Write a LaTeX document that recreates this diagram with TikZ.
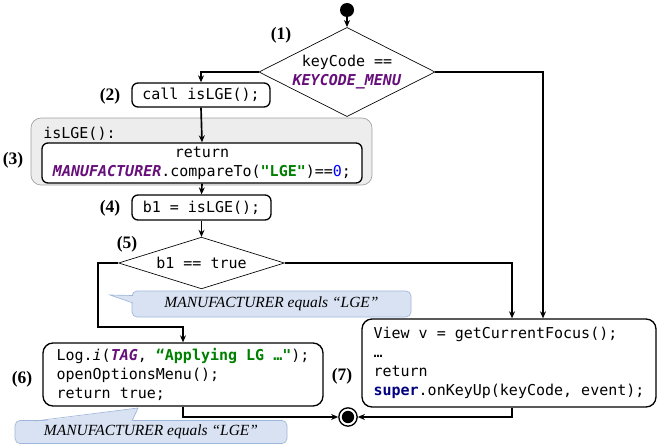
\documentclass[tikz,border=0pt]{standalone}
\usepackage{fontspec}
\setmainfont{Liberation Serif}
\setmonofont{DejaVu Sans Mono}
\usepackage{tikz}
\usetikzlibrary{positioning}
\usetikzlibrary{shapes.geometric}
\usetikzlibrary{arrows.meta}

\definecolor{kwpurple}{HTML}{660E7A}
\definecolor{strgreen}{HTML}{008000}
\definecolor{numblue}{HTML}{0000FF}
\definecolor{kwnavy}{HTML}{000080}
\definecolor{notefill}{HTML}{D9E2F2}
\definecolor{noteline}{HTML}{9FB6DC}
\definecolor{grpfill}{HTML}{EDEDED}
\definecolor{grpline}{HTML}{A0A0A0}

\tikzset{
	code/.style={font=\ttfamily\fontsize{9}{11.3}\selectfont},
	codebox/.style={code, draw, rounded corners=3.6pt, inner sep=0pt, thick},
	choice/.style={code, diamond, draw, inner sep=0pt, aspect=2},
	steplabel/.style={font=\bfseries\fontsize{10.5}{12}\selectfont, inner sep=0pt},
	note/.style={font=\itshape\fontsize{9.3}{10}\selectfont, fill=notefill, draw=noteline, rounded corners=3pt, inner sep=0pt},
	flow/.style={line width=1pt, -{Stealth[length=4.2pt,width=3.6pt]}},
}

\begin{document}
\begin{tikzpicture}[x=0.6pt, y=-0.6pt]
	\useasboundingbox (0,0) rectangle (657,447);

	% Start %
	\node [circle, fill=black, inner sep=0pt, minimum size=8.4pt] (start) at (347,10) {};
	% Decision 1 %
	\node [choice, minimum width=100pt, minimum height=53.5pt, align=center] (d1) at (347,72)
		{keyCode ==\\\textcolor{kwpurple}{\textbf{\textit{KEYCODE\_MENU}}}};
	\node [steplabel] (l1) at (281,35) {(1)};
	% Call %
	\node [codebox, minimum width=82.8pt, minimum height=14.4pt] (b2) at (201,95) {call isLGE();};
	\node [steplabel] (l2) at (110,96) {(2)};
	% isLGE body %
	\node [draw=grpline, fill=grpfill, rounded corners=6pt, minimum width=204.6pt, minimum height=40.2pt] (grp) at (201.5,151.5) {};
	\node [code, anchor=west, inner sep=0pt] (grptitle) at (43,134) {isLGE():};
	\node [codebox, fill=white, minimum width=192pt, minimum height=24pt, align=center] (b3) at (202,163)
		{return\\\textcolor{kwpurple}{\textbf{\textit{MANUFACTURER}}}.compareTo(\textcolor{strgreen}{\textbf{"LGE"}})==\textcolor{numblue}{0};};
	\node [steplabel] (l3) at (13,160) {(3)};
	% Assign %
	\node [codebox, minimum width=83.4pt, minimum height=15pt] (b4) at (201.5,207.5) {b1 = isLGE();};
	\node [steplabel] (l4) at (110,208) {(4)};
	% Decision 2 %
	\node [choice, minimum width=99.5pt, minimum height=31pt, aspect=3.2] (d5) at (201.5,263) {b1 == true};
	\node [steplabel] (l5) at (127,244) {(5)};
	% Then branch %
	\node [codebox, rounded corners=6pt, minimum width=168pt, minimum height=37.8pt, align=left] (b6) at (183,374.5)
		{Log.\textit{i}(\textcolor{kwpurple}{\textbf{\textit{TAG}}}, \textcolor{strgreen}{\textbf{“Applying LG …"}});\\openOptionsMenu();\\return true;};
	\node [steplabel] (l6) at (22,379) {(6)};
	% Else branch %
	\node [codebox, rounded corners=6pt, minimum width=176.4pt, minimum height=52.8pt, align=left] (b7) at (509,363)
		{View v = getCurrentFocus();\\…\\return\\\textcolor{kwnavy}{\textbf{super}}.onKeyUp(keyCode, event);};
	\node [steplabel] (l7) at (342,376) {(7)};
	% End %
	\node [circle, draw, thick, inner sep=0pt, minimum size=11pt,
		path picture={\fill (path picture bounding box.center) circle (3.7pt);}] (endpt) at (348,417) {};

	% Notes %
	\node [note, minimum width=167.4pt, minimum height=15.6pt] (n1) at (271.5,304) {MANUFACTURER equals “LGE”};
	\fill [notefill] (110,295) -- (134,295) -- (134,303) -- cycle;
	\draw [noteline] (133,295.5) -- (110,295) -- (133,303);
	\node [note, minimum width=163.2pt, minimum height=13.8pt] (n2) at (151,432) {MANUFACTURER equals “LGE”};
	\fill [notefill] (138,408) -- (132,422) -- (35,422) -- cycle;
	\draw [noteline] (132,421) -- (138,408) -- (35,421);

	% Flow %
	\coordinate (k5) at (98,327);
	\draw [flow] (start) -- (d1.north);
	\draw [flow] (d1.west) -| (b2.north);
	\draw [flow] (b2.south) -- (b3.north);
	\draw [flow] (b3.south) -- (b4.north);
	\draw [flow] (b4.south) -- (d5.north);
	\draw [flow] (d5.west) -| (k5) -| (b6.north);
	\draw [flow] (d5.east) -| ([xshift=1.8pt]b7.north);
	\draw [flow] (d1.east) -| ([xshift=20.4pt]b7.north);
	\draw [flow] (b6.south) |- (endpt.west);
	\draw [flow] ([xshift=1.8pt]b7.south) |- (endpt.east);
\end{tikzpicture}
\end{document}
